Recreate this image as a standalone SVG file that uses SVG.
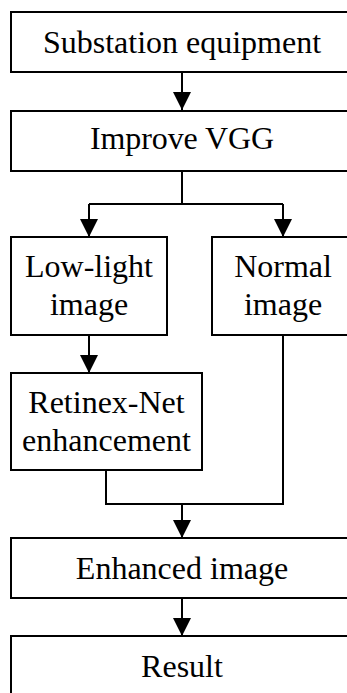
<svg xmlns="http://www.w3.org/2000/svg" width="347" height="693" viewBox="0 0 347 693">
<style>
.box{fill:#fff;stroke:#000;stroke-width:2}
.c{fill:none;stroke:#000;stroke-width:2}
.t{font-size:32px;fill:#000;text-anchor:middle}
</style>
<defs>
<marker id="ah" markerUnits="userSpaceOnUse" markerWidth="18" markerHeight="18" viewBox="0 0 18 18" refX="18" refY="9" orient="auto">
<path d="M0,0 L18,9 L0,18 z" fill="#000"/>
</marker>
</defs>
<rect width="347" height="693" fill="#fff"/>
<g id="connectors">
<path class="c" d="M182,72 V110" marker-end="url(#ah)"/>
<path class="c" d="M182,171 V204"/>
<path class="c" d="M89,204 H283"/>
<path class="c" d="M89,204 V237" marker-end="url(#ah)"/>
<path class="c" d="M283,204 V237" marker-end="url(#ah)"/>
<path class="c" d="M89,335 V373" marker-end="url(#ah)"/>
<path class="c" d="M106,470 V504 H283 V335"/>
<path class="c" d="M182,504 V538" marker-end="url(#ah)"/>
<path class="c" d="M182,598 V636" marker-end="url(#ah)"/>
</g>
<g id="substation">
<rect class="box" x="11" y="12" width="343" height="60"/>
<text class="t" font-family="Times New Roman" x="182" y="52.5">Substation equipment</text>
</g>
<g id="vgg">
<rect class="box" x="11" y="111" width="343" height="60"/>
<text class="t" font-family="Times New Roman" x="182" y="149" textLength="184" lengthAdjust="spacing">Improve VGG</text>
</g>
<g id="lowlight">
<rect class="box" x="11" y="237" width="156" height="98"/>
<text class="t" font-family="Times New Roman" x="89" y="277">Low-light</text>
<text class="t" font-family="Times New Roman" x="89" y="315">image</text>
</g>
<g id="normal">
<rect class="box" x="212" y="237" width="142" height="98"/>
<text class="t" font-family="Times New Roman" x="283" y="277">Normal</text>
<text class="t" font-family="Times New Roman" x="283" y="315">image</text>
</g>
<g id="retinex">
<rect class="box" x="11" y="373" width="191" height="97"/>
<text class="t" font-family="Times New Roman" x="106.5" y="413">Retinex-Net</text>
<text class="t" font-family="Times New Roman" x="106.5" y="451">enhancement</text>
</g>
<g id="enhanced">
<rect class="box" x="11" y="538" width="343" height="60"/>
<text class="t" font-family="Times New Roman" x="182" y="579">Enhanced image</text>
</g>
<g id="result">
<rect class="box" x="11" y="636" width="343" height="62"/>
<text class="t" font-family="Times New Roman" x="182" y="677">Result</text>
</g>
</svg>
